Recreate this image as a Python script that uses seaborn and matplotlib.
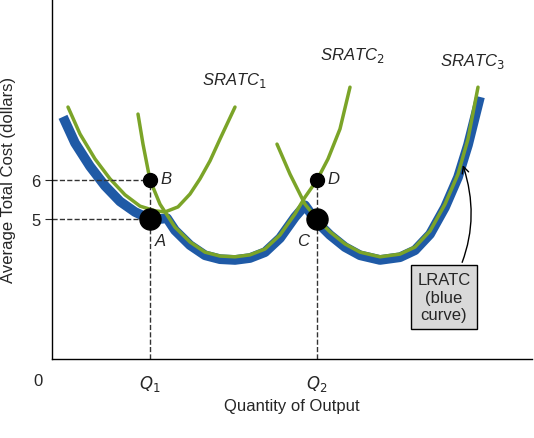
import matplotlib
matplotlib.use("Agg")
import matplotlib.pyplot as plt
import seaborn as sns

sns.set_style("white")
plt.rcParams['font.family'] = ['Liberation Sans', 'DejaVu Sans']

# curve points (x = output, y = cost in dollars)
sratc1_x = [16, 28, 43, 58, 73, 88, 103, 113, 126, 138, 148, 158, 168, 183]
sratc1_y = [7.87, 7.18, 6.54, 6.03, 5.62, 5.33, 5.21, 5.18, 5.31, 5.64, 6.03, 6.49, 7.05, 7.87]
sratc2_x = [86, 91, 98, 108, 123, 138, 153, 168, 183, 198, 213, 228, 243, 253, 265, 276, 288, 298]
sratc2_y = [7.69, 6.92, 6.0, 5.38, 4.79, 4.41, 4.15, 4.05, 4.03, 4.08, 4.23, 4.59, 5.13, 5.56, 6.0, 6.54, 7.31, 8.38]
sratc3_x = [225, 238, 253, 265, 278, 293, 308, 328, 348, 363, 378, 393, 406, 416, 426]
sratc3_y = [6.92, 6.15, 5.38, 5.0, 4.67, 4.36, 4.15, 4.03, 4.10, 4.28, 4.69, 5.38, 6.15, 7.05, 8.38]
lratc_x = [11, 23, 38, 53, 68, 83, 98, 108, 115, 123, 138, 153, 168, 183, 198, 213, 228, 243, 253,
           265, 278, 293, 308, 328, 348, 363, 378, 393, 406, 416, 428]
lratc_y = [7.62, 6.95, 6.35, 5.85, 5.45, 5.18, 5.0, 5.0, 5.02, 4.71, 4.33, 4.07, 3.97, 3.95, 4.0,
           4.15, 4.51, 5.05, 5.35, 4.92, 4.59, 4.28, 4.07, 3.95, 4.02, 4.2, 4.61, 5.3, 6.07, 6.9, 8.13]

q1, q2 = 98, 265
big_pts_x, big_pts_y = [q1, q2], [5, 5]
small_pts_x, small_pts_y = [q1, q2], [6, 6]

fig = plt.figure(figsize=(5.34, 4.39), dpi=100)
ax = fig.add_axes([52/534, 79/439, 480/534, 360/439])
ymin, ymax = 5 - 140/39, 5 + 220/39
ax.set_xlim(0, 480)
ax.set_ylim(ymin, ymax)

blue, green = '#1f5aa6', '#7ba428'
sns.lineplot(x=lratc_x, y=lratc_y, ax=ax, color=blue, lw=7, sort=False, solid_capstyle='butt')
for xs, ys in [(sratc1_x, sratc1_y), (sratc2_x, sratc2_y), (sratc3_x, sratc3_y)]:
    sns.lineplot(x=xs, y=ys, ax=ax, color=green, lw=2.5, sort=False)

# dashed guides
ax.plot([0, q1], [6, 6], ls='--', color='#333', lw=1)
ax.plot([0, q1], [5, 5], ls='--', color='#333', lw=1)
ax.plot([q1, q1], [ymin, 6], ls='--', color='#333', lw=1)
ax.plot([q2, q2], [ymin, 6], ls='--', color='#333', lw=1)

ax.scatter(big_pts_x, big_pts_y, s=230, color='black', zorder=5)
ax.scatter(small_pts_x, small_pts_y, s=100, color='black', zorder=5)

fs = 12
ax.text(q1 + 10, 6.05, 'B', fontsize=fs, style='italic', va='center')
ax.text(q1 + 5, 4.45, 'A', fontsize=fs, style='italic', va='center')
ax.text(q2 + 10, 6.05, 'D', fontsize=fs, style='italic', va='center')
ax.text(q2 - 20, 4.45, 'C', fontsize=fs, style='italic', va='center')
ax.text(150, 8.45, r'SRATC$_1$', fontsize=fs, style='italic')
ax.text(268, 9.1, r'SRATC$_2$', fontsize=fs, style='italic')
ax.text(388, 8.95, r'SRATC$_3$', fontsize=fs, style='italic')

ax.annotate('LRATC\n(blue\ncurve)', xy=(410, 6.45), xytext=(392, 3.0),
            fontsize=fs, ha='center', va='center',
            bbox=dict(boxstyle='square,pad=0.4', fc='#d9d9d9', ec='black', lw=1),
            arrowprops=dict(arrowstyle='->', color='black', lw=1,
                            connectionstyle='arc3,rad=0.25'))

ax.set_xticks([q1, q2])
ax.set_xticklabels([r'$Q_1$', r'$Q_2$'], fontsize=fs)
ax.set_yticks([5, 6])
ax.set_yticklabels(['5', '6'], fontsize=fs)
ax.tick_params(axis='y', length=5, direction='out', left=True)
ax.tick_params(axis='x', length=0, pad=10)
ax.text(-14, ymin - 0.55, '0', fontsize=fs, ha='center', va='center')
ax.set_xlabel('Quantity of Output', fontsize=fs)
ax.set_ylabel('Average Total Cost (dollars)', fontsize=fs)
ax.yaxis.set_label_coords(-0.075, 0.5)
for s in ['top', 'right']:
    ax.spines[s].set_visible(False)
for s in ['left', 'bottom']:
    ax.spines[s].set_color('black')
    ax.spines[s].set_linewidth(1)

fig.savefig('out.png', dpi=100)
